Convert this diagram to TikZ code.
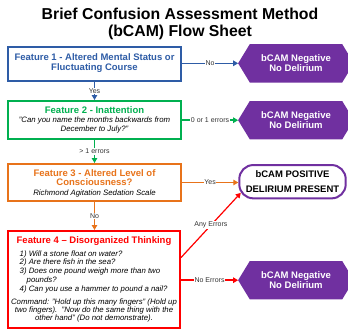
\documentclass[tikz,border=0pt]{standalone}
\usepackage{fontspec}
\setmainfont{Liberation Sans}
\usetikzlibrary{arrows.meta,calc,backgrounds}
\definecolor{cblue}{HTML}{2E5CA6}
\definecolor{cgreen}{HTML}{00B050}
\definecolor{corange}{HTML}{E8731A}
\definecolor{cred}{HTML}{FF0000}
\definecolor{cpurple}{HTML}{7030A0}
\definecolor{clbl}{HTML}{333333}
\begin{document}
\begin{tikzpicture}[x=1pt,y=-1pt,
  box/.style={draw, line width=2pt, fill=white, inner sep=0pt},
  hexnode/.style={inner sep=0pt, minimum width=115.4pt, minimum height=38pt, text=white, align=center, font=\fontsize{9.5}{9.4}\selectfont\bfseries},
  ttl/.style={font=\fontsize{9.5}{9.2}\selectfont\bfseries, align=center, inner sep=0pt},
  ital/.style={font=\fontsize{7.8}{9.3}\selectfont\itshape, align=center, inner sep=0pt},
  lbl/.style={fill=white, text=clbl, inner sep=0.6pt, font=\fontsize{7}{8}\selectfont},
  conn/.style={line width=1.5pt, -{Triangle[length=5pt,width=5.5pt]}},
  bigtitle/.style={font=\fontsize{15.8}{18}\selectfont\bfseries, inner sep=0pt},
]
\useasboundingbox (0,0) rectangle (348,329);

% title
\node[bigtitle] (t1) at (180,14) {Brief Confusion Assessment Method};
\node[bigtitle] (t2) at (180,32) {(bCAM) Flow Sheet};

% feature boxes
\node[box, draw=cblue, minimum width=173pt, minimum height=34pt] (f1) at (94.5,64) {};
\node[box, draw=cgreen, minimum width=173pt, minimum height=38pt] (f2) at (94.5,120) {};
\node[box, draw=corange, minimum width=173pt, minimum height=37pt] (f3) at (94.5,182.5) {};
\node[box, draw=cred, minimum width=172pt, minimum height=96.5pt] (f4) at (94,279.25) {};

% box texts
\node[ttl, text=cblue] (f1t) at (94.5,63) {Feature 1 - Altered Mental Status or\\Fluctuating Course};
\node[ttl, text=cgreen] (f2t) at (94.5,110) {Feature 2 - Inattention};
\node[ital] (f2q) at (94.5,124.7) {"Can you name the months backwards from\\December to July?"};
\node[ttl, text=corange, font=\fontsize{9.5}{9}\selectfont\bfseries] (f3t) at (94.5,177.2) {Feature 3 - Altered Level of\\Consciousness?};
\node[ital] (f3s) at (94.5,193.3) {Richmond Agitation Sedation Scale};
\node[ttl, text=cred] (f4t) at (94,241) {Feature 4 -- Disorganized Thinking};
\node[ital, align=left, anchor=west, font=\fontsize{7.8}{8.75}\selectfont\itshape] (f4l) at (19.5,271.5)
  {1) Will a stone float on water?\\
   2) Are there fish in the sea?\\
   3) Does one pound weigh more than two\\
   \hspace*{7pt}pounds?\\
   4) Can you use a hammer to pound a nail?};
\node[ital, font=\fontsize{7.8}{8.25}\selectfont\itshape] (f4c) at (94,310.3)
  {Command: "Hold up this many fingers" (Hold up\\
   two fingers).\ \ "Now do the same thing with the\\
   other hand" (Do not demonstrate).};

% outcome nodes
\node[hexnode] (h1) at (296,63.3) {bCAM Negative\\No Delirium};
\node[hexnode] (h2) at (296,120.2) {bCAM Negative\\No Delirium};
\node[hexnode] (h3) at (296,280.2) {bCAM Negative\\No Delirium};
\begin{scope}[on background layer]
\foreach \h in {h1,h2,h3}
  \fill[cpurple] (\h.west) -- ($(\h.north west)+(11.7,0)$) -- ($(\h.north east)+(-11.7,0)$)
    -- (\h.east) -- ($(\h.south east)+(-11.7,0)$) -- ($(\h.south west)+(11.7,0)$) -- cycle;
\end{scope}
\node[draw=cpurple, line width=2pt, rounded corners=14pt, fill=white, inner sep=0pt,
      minimum width=106.4pt, minimum height=33.3pt, align=center,
      font=\fontsize{9.5}{14.3}\selectfont\bfseries] (pos) at (292.5,181.7)
  {bCAM POSITIVE\\DELIRIUM PRESENT};

% connectors
\draw[conn, cblue] (f1.east |- h1.west) -- node[lbl]{No} (h1.west);
\draw[conn, cblue] (f1.south) -- node[lbl]{Yes} (f2.north);
\draw[conn, cgreen] (f2.east |- h2.west) -- node[lbl]{0 or 1 errors} (h2.west);
\draw[conn, cgreen] (f2.south) -- node[lbl]{> 1 errors} (f3.north);
\draw[conn, corange] (f3.east) -- node[lbl]{Yes} (f3.east -| pos.west);
\draw[conn, corange] (f3.south) -- node[lbl]{No} (f3.south |- f4.north);
\draw[conn, cred, line width=1.2pt] ($(f4.north east)!0.28!(f4.south east)$) -- node[lbl]{Any Errors} ($(pos.south west)+(2.5,-6.5)$);
\draw[conn, cred] (f4.east |- h3.west) -- node[lbl]{No Errors} (h3.west);
\end{tikzpicture}
\end{document}
